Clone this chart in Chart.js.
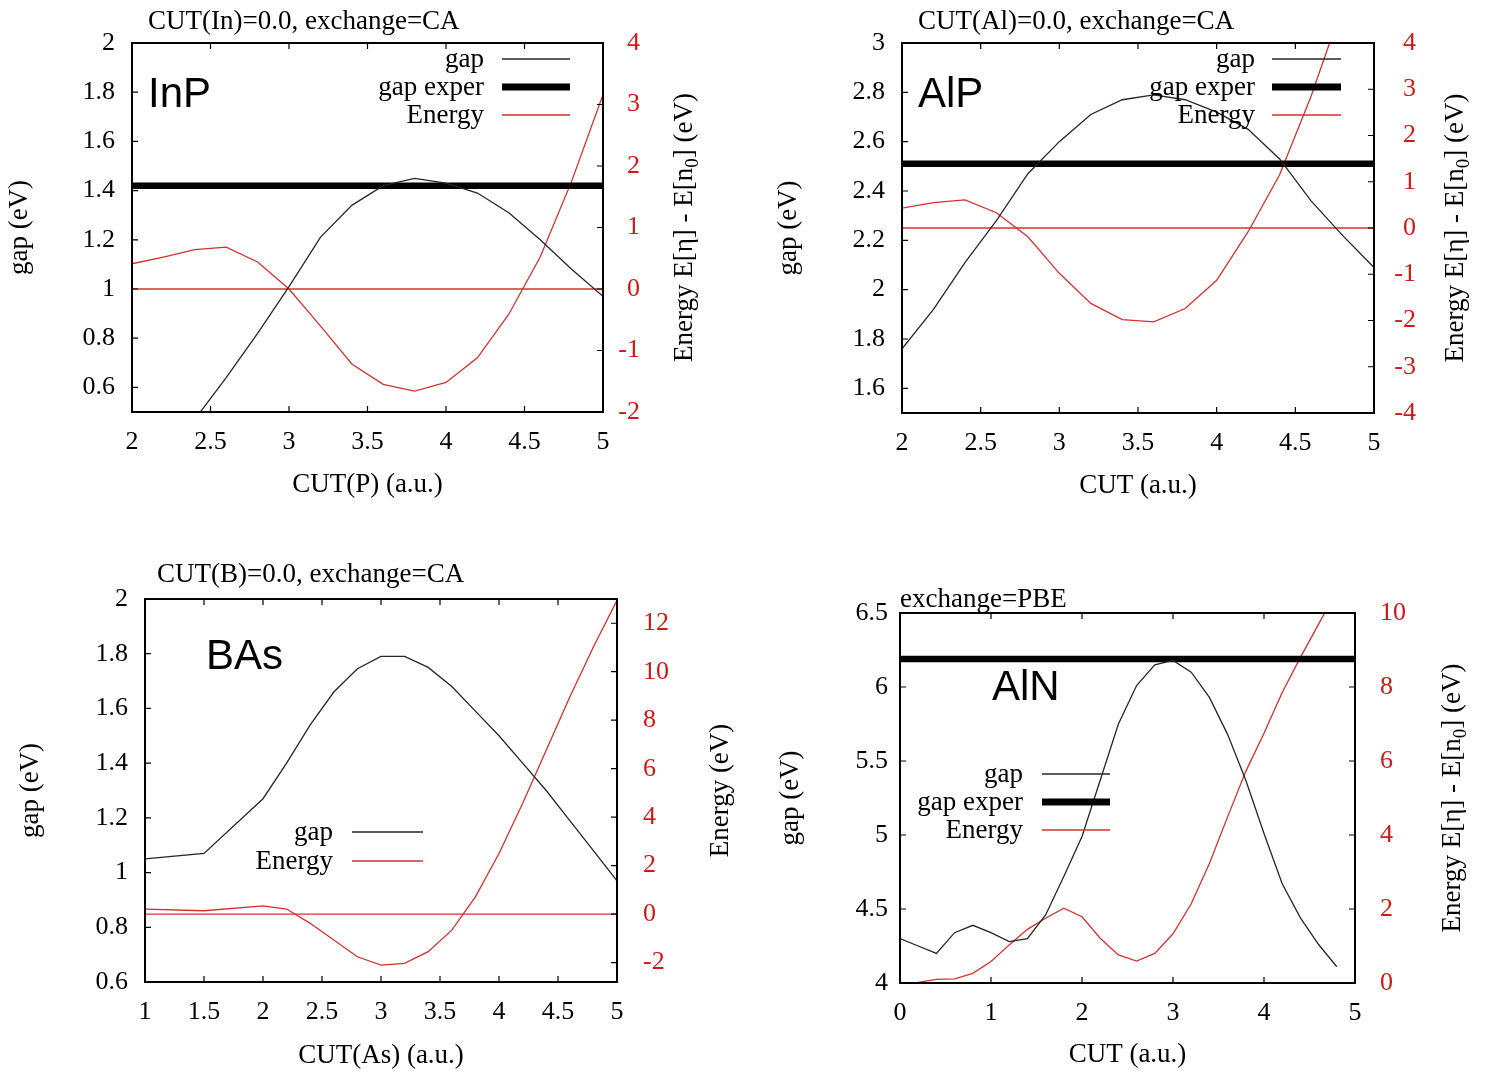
<!DOCTYPE html>
<html><head><meta charset="utf-8">
<script src="https://cdn.jsdelivr.net/npm/chart.js@4.4.0/dist/chart.umd.min.js"></script>
<style>
html,body{margin:0;padding:0;background:#fff;}
#wrap{position:relative;width:1489px;height:1074px;overflow:hidden;background:#fff;}
canvas{position:absolute;left:0;top:0;}
</style></head><body><div id="wrap">
<canvas id="c1" width="1489" height="1074"></canvas>
<canvas id="c2" width="1489" height="1074"></canvas>
<canvas id="c3" width="1489" height="1074"></canvas>
<canvas id="c4" width="1489" height="1074"></canvas>
</div>
<script>
// ---------------- data ----------------
// InP
const inpCut    = [2.0,2.2,2.4,2.6,2.8,3.0,3.2,3.4,3.6,3.8,4.0,4.2,4.4,4.6,4.8,5.0];
const inpGap    = [null,null,0.47,0.64,0.82,1.01,1.21,1.34,1.42,1.45,1.43,1.39,1.31,1.20,1.08,0.97];
const inpEnergy = [0.41,0.52,0.64,0.68,0.44,0.00,-0.60,-1.22,-1.55,-1.66,-1.52,-1.12,-0.41,0.52,1.75,3.16];
const inpGapExper = 1.42;
const inpXTicks  = [2,2.5,3,3.5,4,4.5,5];
const inpYTicks  = [0.6,0.8,1,1.2,1.4,1.6,1.8,2];
const inpY2Ticks = [-2,-1,0,1,2,3,4];

// AlP
const alpCut    = [2.0,2.2,2.4,2.6,2.8,3.0,3.2,3.4,3.6,3.8,4.0,4.2,4.4,4.6,4.8,5.0];
const alpGap    = [1.76,1.92,2.11,2.28,2.47,2.60,2.71,2.77,2.79,2.77,2.72,2.65,2.53,2.36,2.22,2.09];
const alpEnergy = [0.43,0.55,0.61,0.33,-0.19,-0.98,-1.63,-1.98,-2.03,-1.74,-1.13,-0.08,1.15,2.85,4.8,null];
const alpGapExper = 2.51;
const alpXTicks  = [2,2.5,3,3.5,4,4.5,5];
const alpYTicks  = [1.6,1.8,2,2.2,2.4,2.6,2.8,3];
const alpY2Ticks = [-4,-3,-2,-1,0,1,2,3,4];

// BAs
const basCut    = [1.0,1.5,2.0,2.2,2.4,2.6,2.8,3.0,3.2,3.4,3.6,3.8,4.0,4.2,4.4,4.6,4.8,5.0];
const basGap    = [1.05,1.07,1.27,1.40,1.54,1.66,1.745,1.79,1.79,1.75,1.68,1.59,1.50,1.40,1.30,1.19,1.08,0.97];
const basEnergy = [0.21,0.14,0.34,0.21,-0.38,-1.07,-1.76,-2.10,-2.03,-1.55,-0.66,0.71,2.50,4.56,6.76,8.96,11.02,12.95];
const basXTicks  = [1,1.5,2,2.5,3,3.5,4,4.5,5];
const basYTicks  = [0.6,0.8,1,1.2,1.4,1.6,1.8,2];
const basY2Ticks = [-2,0,2,4,6,8,10,12];

// AlN
const alnCut    = [0.0,0.2,0.4,0.6,0.8,1.0,1.2,1.4,1.6,1.8,2.0,2.2,2.4,2.6,2.8,3.0,3.2,3.4,3.6,3.8,4.0,4.2,4.4,4.6,4.8];
const alnGap    = [4.30,4.25,4.20,4.34,4.39,4.34,4.28,4.30,4.46,4.72,4.99,5.37,5.75,6.01,6.15,6.18,6.10,5.93,5.68,5.37,5.01,4.67,4.44,4.26,4.11];
const alnEnergy = [-0.15,0.02,0.10,0.11,0.26,0.58,1.03,1.45,1.75,2.02,1.79,1.21,0.76,0.59,0.80,1.33,2.14,3.23,4.49,5.72,6.75,7.85,8.8,9.7,10.6];
const alnGapExper = 6.19;
const alnXTicks  = [0,1,2,3,4,5];
const alnYTicks  = [4,4.5,5,5.5,6,6.5];
const alnY2Ticks = [0,2,4,6,8,10];

// ---------------- helpers ----------------
const SERIF = '"Liberation Serif", "Times New Roman", serif';
const SANS  = '"Liberation Sans", Arial, sans-serif';
const RED_LINE = 'rgb(212,48,48)';
const RED_TEXT = 'rgb(208,24,24)';
const BLACK_LINE = '#262626';

function zip(xs, ys) {
  const out = [];
  xs.forEach((x, i) => { if (ys[i] !== null && ys[i] !== undefined) out.push({x: x, y: ys[i]}); });
  return out;
}
function setTicks(arr) { return s => { s.ticks = arr.map(v => ({value: v})); }; }

const decor = {
  id: 'decor',
  afterDatasetsDraw(chart, args, o) {
    const {ctx, chartArea: a, scales} = chart;
    ctx.save();
    // inward tick marks (gnuplot style)
    const T = 6;
    ctx.strokeStyle = '#000'; ctx.lineWidth = 1.2;
    ctx.beginPath();
    scales.x.ticks.forEach(t => {
      const p = scales.x.getPixelForValue(t.value);
      ctx.moveTo(p, a.bottom); ctx.lineTo(p, a.bottom - T);
      ctx.moveTo(p, a.top); ctx.lineTo(p, a.top + T);
    });
    scales.y.ticks.forEach(t => {
      const p = scales.y.getPixelForValue(t.value);
      ctx.moveTo(a.left, p); ctx.lineTo(a.left + T, p);
    });
    scales.y2.ticks.forEach(t => {
      const p = scales.y2.getPixelForValue(t.value);
      ctx.moveTo(a.right, p); ctx.lineTo(a.right - T, p);
    });
    ctx.stroke();
    // border
    ctx.lineWidth = 2;
    ctx.strokeRect(a.left, a.top, a.right - a.left, a.bottom - a.top);

    // caption
    ctx.fillStyle = '#000';
    ctx.textBaseline = 'alphabetic';
    if (o.caption) {
      ctx.font = o.caption.size + 'px ' + SERIF;
      ctx.textAlign = 'left';
      ctx.fillText(o.caption.text, o.caption.x, o.caption.y);
    }
    // panel label
    if (o.label) {
      ctx.font = o.label.size + 'px ' + SANS;
      ctx.textAlign = 'left';
      ctx.fillText(o.label.text, o.label.x, o.label.y);
    }
    // right axis title (rotated, reading upward), with optional subscript
    if (o.rightTitle) {
      const rt = o.rightTitle;
      const yc = (a.top + a.bottom) / 2;
      ctx.translate(rt.x, yc);
      ctx.rotate(-Math.PI / 2);
      const big = rt.size + 'px ' + SERIF, small = Math.round(rt.size * 0.7) + 'px ' + SERIF;
      let total = 0;
      rt.parts.forEach(p => { ctx.font = p.sub ? small : big; total += ctx.measureText(p.t).width; });
      let cx = -total / 2;
      ctx.textAlign = 'left';
      rt.parts.forEach(p => {
        ctx.font = p.sub ? small : big;
        ctx.fillText(p.t, cx, p.sub ? rt.size * 0.22 : 0);
        cx += ctx.measureText(p.t).width;
      });
      ctx.setTransform(1, 0, 0, 1, 0, 0);
    }
    // key
    if (o.key) {
      const k = o.key;
      ctx.font = k.size + 'px ' + SERIF;
      ctx.textAlign = 'right';
      k.rows.forEach(r => {
        const ds = chart.data.datasets[r.ds];
        ctx.fillStyle = '#000';
        ctx.fillText(ds.label, k.textRight, r.y + 8);
        ctx.strokeStyle = ds.borderColor;
        ctx.lineWidth = r.w || ds.borderWidth;
        ctx.beginPath(); ctx.moveTo(k.x1, r.y); ctx.lineTo(k.x2, r.y); ctx.stroke();
      });
    }
    ctx.restore();
  }
};

function makePanel(id, p) {
  const datasets = [
    {label: 'gap', data: zip(p.cut, p.gap), yAxisID: 'y', borderColor: BLACK_LINE, borderWidth: 1.3},
  ];
  if (p.exper !== undefined) {
    datasets.push({label: 'gap exper', data: [{x: p.xmin, y: p.exper}, {x: p.xmax, y: p.exper}], yAxisID: 'y', borderColor: '#000', borderWidth: 6.5});
  }
  datasets.push({label: 'Energy', data: zip(p.cut, p.energy), yAxisID: 'y2', borderColor: RED_LINE, borderWidth: 1.3});
  datasets.push({label: 'zero', data: [{x: p.xmin, y: 0}, {x: p.xmax, y: 0}], yAxisID: 'y2', borderColor: RED_LINE, borderWidth: 1.3});
  datasets.forEach(d => { d.pointRadius = 0; d.tension = 0; d.fill = false; d.clip = 0; });

  const L = p.area[0], R = p.area[1], T = p.area[2], B = p.area[3];
  const boxLeft = p.leftBase - 25.3;
  const boxBottom = p.xBase + 7.1;
  const Wl = L - boxLeft, Hb = boxBottom - B;
  const Wr = p.wr;
  const tickFont = {family: SERIF, size: 26};
  const titleFont = {family: SERIF, size: 27, lineHeight: 1.2};

  new Chart(document.getElementById(id), {
    type: 'line',
    data: {datasets},
    plugins: [decor],
    options: {
      responsive: false, animation: false, devicePixelRatio: 1, events: [],
      layout: {padding: {left: boxLeft, top: T, right: 1489 - R - Wr, bottom: 1074 - boxBottom}},
      plugins: {
        legend: {display: false}, tooltip: {enabled: false},
        decor: p.decor
      },
      scales: {
        x: {
          type: 'linear', position: 'bottom', min: p.xmin, max: p.xmax,
          afterBuildTicks: setTicks(p.xTicks), afterFit: s => { s.height = Hb; },
          grid: {display: false, drawTicks: false}, border: {display: false},
          ticks: {color: '#000', font: tickFont, padding: 15, maxRotation: 0, autoSkip: false, callback: v => String(v)},
          title: {display: true, text: p.xTitle, color: '#000', font: titleFont, padding: 0}
        },
        y: {
          type: 'linear', position: 'left', min: p.ymin, max: p.ymax,
          afterBuildTicks: setTicks(p.yTicks), afterFit: s => { s.width = Wl; },
          grid: {display: false, drawTicks: false}, border: {display: false},
          ticks: {color: '#000', font: tickFont, padding: p.yPad, autoSkip: false, callback: v => String(v)},
          title: {display: true, text: 'gap (eV)', color: '#000', font: titleFont, padding: 0}
        },
        y2: {
          type: 'linear', position: 'right', min: p.y2min, max: p.y2max,
          afterBuildTicks: setTicks(p.y2Ticks), afterFit: s => { s.width = Wr; },
          grid: {display: false, drawTicks: false}, border: {display: false},
          ticks: {color: RED_TEXT, font: tickFont, padding: p.y2Pad, crossAlign: p.y2Align, autoSkip: false, callback: v => String(v)}
        }
      }
    }
  });
}

const energyTitle = [{t: 'Energy E[\u03B7] - E[n'}, {t: '0', sub: true}, {t: '] (eV)'}];

makePanel('c1', {
  cut: inpCut, gap: inpGap, energy: inpEnergy, exper: inpGapExper,
  xmin: 2, xmax: 5, ymin: 0.5, ymax: 2, y2min: -2, y2max: 4,
  xTicks: inpXTicks, yTicks: inpYTicks, y2Ticks: inpY2Ticks,
  area: [132, 603, 43, 412], leftBase: 29, xBase: 494, wr: 37, yPad: 17, y2Pad: 20, y2Align: 'far',
  xTitle: 'CUT(P) (a.u.)',
  decor: {
    caption: {text: 'CUT(In)=0.0, exchange=CA', x: 148, y: 29, size: 27},
    label: {text: 'InP', x: 148, y: 107, size: 42},
    rightTitle: {parts: energyTitle, x: 692, size: 27},
    key: {textRight: 484, x1: 502, x2: 570, size: 27, rows: [{ds: 0, y: 59}, {ds: 1, y: 87, w: 7}, {ds: 2, y: 115}]}
  }
});

makePanel('c2', {
  cut: alpCut, gap: alpGap, energy: alpEnergy, exper: alpGapExper,
  xmin: 2, xmax: 5, ymin: 1.5, ymax: 3, y2min: -4, y2max: 4,
  xTicks: alpXTicks, yTicks: alpYTicks, y2Ticks: alpY2Ticks,
  area: [902, 1374, 43, 413], leftBase: 798, xBase: 495, wr: 42, yPad: 17, y2Pad: 20, y2Align: 'far',
  xTitle: 'CUT (a.u.)',
  decor: {
    caption: {text: 'CUT(Al)=0.0, exchange=CA', x: 918, y: 29, size: 27},
    label: {text: 'AlP', x: 918, y: 107, size: 42},
    rightTitle: {parts: energyTitle, x: 1463, size: 27},
    key: {textRight: 1255, x1: 1272, x2: 1341, size: 27, rows: [{ds: 0, y: 59}, {ds: 1, y: 87, w: 7}, {ds: 2, y: 115}]}
  }
});

makePanel('c3', {
  cut: basCut, gap: basGap, energy: basEnergy,
  xmin: 1, xmax: 5, ymin: 0.6, ymax: 2, y2min: -2.8, y2max: 13,
  xTicks: basXTicks, yTicks: basYTicks, y2Ticks: basY2Ticks,
  area: [145, 617, 599, 982], leftBase: 40, xBase: 1065, wr: 60, yPad: 17, y2Pad: 26, y2Align: 'near',
  xTitle: 'CUT(As) (a.u.)',
  decor: {
    caption: {text: 'CUT(B)=0.0, exchange=CA', x: 157, y: 582, size: 27},
    label: {text: 'BAs', x: 206, y: 669, size: 42},
    rightTitle: {parts: [{t: 'Energy (eV)'}], x: 728, size: 27},
    key: {textRight: 333, x1: 352, x2: 423, size: 27, rows: [{ds: 0, y: 832}, {ds: 1, y: 861}]}
  }
});

makePanel('c4', {
  cut: alnCut, gap: alnGap, energy: alnEnergy, exper: alnGapExper,
  xmin: 0, xmax: 5, ymin: 4, ymax: 6.5, y2min: 0, y2max: 10,
  xTicks: alnXTicks, yTicks: alnYTicks, y2Ticks: alnY2Ticks,
  area: [900, 1355, 613, 983], leftBase: 800, xBase: 1064, wr: 60, yPad: 12, y2Pad: 25, y2Align: 'near',
  xTitle: 'CUT (a.u.)',
  decor: {
    caption: {text: 'exchange=PBE', x: 900, y: 607, size: 27},
    label: {text: 'AlN', x: 992, y: 700, size: 42},
    rightTitle: {parts: energyTitle, x: 1460, size: 27},
    key: {textRight: 1023, x1: 1042, x2: 1110, size: 27, rows: [{ds: 0, y: 774}, {ds: 1, y: 802, w: 7}, {ds: 2, y: 830}]}
  }
});
</script>
</body></html>
